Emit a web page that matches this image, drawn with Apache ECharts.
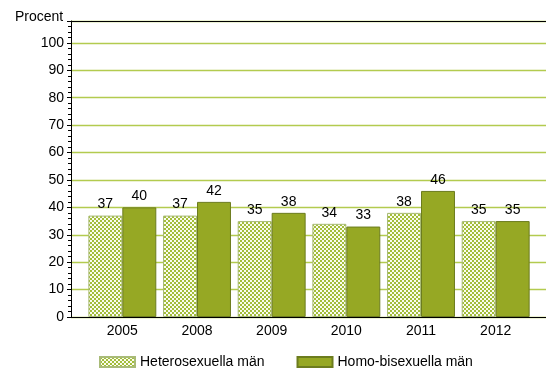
<!DOCTYPE html>
<html><head><meta charset="utf-8">
<script src="https://cdn.jsdelivr.net/npm/echarts@6/dist/echarts.min.js"></script>
<style>html,body{margin:0;padding:0;background:#fff}#c{width:546px;height:373px}</style>
</head><body><div id="c"></div>
<script>
var categories = ['2005','2008','2009','2010','2011','2012'];
var heteroValues = [37, 37, 35, 34, 38, 35];
var homoValues = [40, 42, 38, 33, 46, 35];
var seriesNames = ['Heterosexuella män','Homo-bisexuella män'];
var yTicks = [0,10,20,30,40,50,60,70,80,90,100];

function makePattern(){
  var c = document.createElement('canvas');
  c.width = 4; c.height = 4;
  var ctx = c.getContext('2d');
  ctx.fillStyle = '#fafcef'; ctx.fillRect(0,0,4,4);
  ctx.fillStyle = '#a3bd3a';
  ctx.fillRect(0,0,2,2); ctx.fillRect(2,2,2,2);
  return c;
}
var pat = {image: makePattern(), repeat: 'repeat'};
var font = 'Liberation Sans, Arial, sans-serif';
var chart = echarts.init(document.getElementById('c'), null, {renderer:'canvas'});
chart.setOption({
  animation:false,
  title:{text:'Procent', left:10, top:5, textStyle:{fontFamily:font, fontSize:14, fontWeight:'normal', color:'#000'}},
  legend:{left:94, top:350, icon:'rect', itemWidth:35, itemHeight:10, itemGap:32,
    textStyle:{fontFamily:font, fontSize:14, color:'#000'}, data:seriesNames},
  grid:[
    {left:71, right:0, top:21, bottom:56},
    {left:85, right:13, top:21, bottom:56}
  ],
  xAxis:[
    {gridIndex:0, type:'category', data:categories, position:'bottom',
      axisLine:{show:true, lineStyle:{color:'#000'}}, axisTick:{show:false}, axisLabel:{show:false}},
    {gridIndex:1, type:'category', data:categories, axisLine:{show:false}, axisTick:{show:false},
      axisLabel:{fontFamily:font, fontSize:14, color:'#000', margin:7}},
    {gridIndex:0, type:'category', data:categories, position:'top',
      axisLine:{show:true, lineStyle:{color:'#000'}}, axisTick:{show:false}, axisLabel:{show:false}}
  ],
  yAxis:[
    {gridIndex:0, type:'value', min:0, max:108, interval:10,
      axisLine:{show:true, lineStyle:{color:'#000'}},
      axisTick:{show:true, length:4, lineStyle:{color:'#000'}},
      minorTick:{show:true, splitNumber:5, length:3, lineStyle:{color:'#000'}},
      axisLabel:{fontFamily:font, fontSize:14, color:'#000', margin:7,
        formatter:function(v){return yTicks.indexOf(v)>=0 ? String(v) : '';}},
      splitLine:{show:true, lineStyle:{color:'#b3cb4f', width:1.3}}},
    {gridIndex:1, type:'value', min:0, max:108, show:false}
  ],
  series:[
    {name:seriesNames[0], type:'bar', xAxisIndex:1, yAxisIndex:1, data:heteroValues,
      barGap:'0%', barCategoryGap:'9%',
      itemStyle:{color:pat, borderColor:'#a9bb78', borderWidth:1},
      label:{show:true, position:'top', distance:4, fontFamily:font, fontSize:14, color:'#000'}},
    {name:seriesNames[1], type:'bar', xAxisIndex:1, yAxisIndex:1, data:homoValues,
      barGap:'0%', barCategoryGap:'9%',
      itemStyle:{color:'#96a824', borderColor:'#6c7c1e', borderWidth:1},
      label:{show:true, position:'top', distance:4, fontFamily:font, fontSize:14, color:'#000'}}
  ]
});
</script></body></html>
